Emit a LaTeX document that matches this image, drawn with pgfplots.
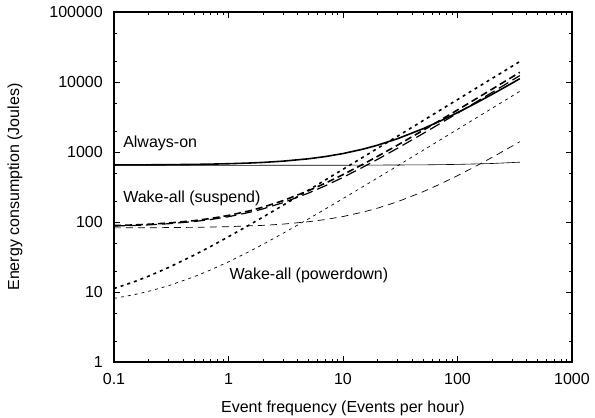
\documentclass[border=0pt]{standalone}
\usepackage{pgfplots}
\pgfplotsset{compat=1.18}
\usepackage{fontspec}
\setmainfont{Liberation Sans}

\newcommand{\lbl}{\fontsize{16}{19}\selectfont}

\begin{document}
\begin{tikzpicture}
\begin{axis}[
    name=ax,
    scale only axis,
    width=458pt, height=350pt,
    xmode=log, ymode=log,
    xmin=0.1, xmax=1000, ymin=1, ymax=100000,
    xtick={0.1,1,10,100,1000},
    xticklabels={0.1,1,10,100,1000},
    ytick={1,10,100,1000,10000,100000},
    yticklabels={1,10,100,1000,10000,100000},
    minor ytick={2,5,20,50,200,500,2000,5000,20000,50000},
    font=\lbl,
    tick label style={font=\lbl},
    xticklabel style={anchor=center, yshift=-17pt},
    yticklabel style={anchor=east, inner sep=0pt, xshift=-11pt},
    major tick length=6pt, minor tick length=3pt,
    every tick/.style={black, line width=0.7pt},
    axis line style={line width=1.1pt},
    xlabel={Event frequency (Events per hour)},
    ylabel={Energy consumption (Joules)},
    every axis x label/.style={at={([yshift=-46pt]rel axis cs:0.5,0)}, anchor=center},
    every axis y label/.style={at={([xshift=-99pt]rel axis cs:0,0.5)}, anchor=center, rotate=90},
    every axis plot/.append style={black, no markers},
]
% Always-on, heavy
\addplot[line width=1.6pt] coordinates {
(0.1,653) (0.15,654.5) (0.2,656) (0.3,659) (0.5,665) (0.7,671) (1,680)
(1.5,695) (2,710) (3,740) (5,800) (7,860) (10,950) (15,1100) (20,1250)
(30,1550) (50,2150) (70,2750) (100,3650) (150,5150) (200,6650) (250,8150)
(300,9650) (350,11150)};
% Always-on, light
\addplot[line width=0.6pt] coordinates {
(0.1,645) (1,645.2) (10,647) (50,655) (100,665) (200,685) (350,715)};
% Wake-all (suspend), heavy
\addplot[line width=1.6pt, dash pattern=on 7pt off 4pt] coordinates {
(0.1,88.9) (0.15,90.85) (0.2,92.8) (0.3,96.7) (0.5,104.5) (0.7,112.3) (1,124)
(1.5,143.5) (2,163) (3,202) (5,280) (7,358) (10,475) (15,670) (20,865)
(30,1255) (50,2035) (70,2815) (100,3985) (150,5935) (200,7885) (250,9835)
(300,11785) (350,13735)};
% Wake-all (suspend), medium
\addplot[line width=1.2pt, dash pattern=on 11pt off 5pt] coordinates {
(0.1,87.5) (0.15,89.25) (0.2,91) (0.3,94.5) (0.5,101.5) (0.7,108.5) (1,119)
(1.5,136.5) (2,154) (3,189) (5,259) (7,329) (10,434) (15,609) (20,784)
(30,1134) (50,1834) (70,2534) (100,3584) (150,5334) (200,7084) (250,8834)
(300,10584) (350,12334)};
% Wake-all (suspend), light
\addplot[line width=0.7pt, dash pattern=on 7pt off 5pt] coordinates {
(0.1,82.4) (0.2,82.8) (0.5,83.9) (1,85.8) (2,89.5) (3,93.3) (5,100.9)
(7,108.4) (10,119.7) (15,138.6) (20,157.4) (30,195.1) (50,270.5) (70,345.9)
(100,459) (150,647.5) (200,836) (250,1024.5) (300,1213) (350,1401.5)};
% Wake-all (powerdown), heavy
\addplot[line width=1.6pt, dash pattern=on 3pt off 4pt] coordinates {
(0.1,11.2) (0.15,14) (0.2,16.8) (0.3,22.4) (0.5,33.6) (0.7,44.8) (1,61.6)
(1.5,89.6) (2,117.6) (3,173.6) (5,285.6) (7,397.6) (10,565.6) (15,845.6)
(20,1125.6) (30,1685.6) (50,2805.6) (70,3925.6) (100,5605.6) (150,8405.6)
(200,11205.6) (250,14005.6) (300,16805.6) (350,19605.6)};
% Wake-all (powerdown), light
\addplot[line width=0.7pt, dash pattern=on 3pt off 4pt] coordinates {
(0.1,8.1) (0.15,9.15) (0.2,10.2) (0.3,12.3) (0.5,16.5) (0.7,20.7) (1,27)
(1.5,37.5) (2,48) (3,69) (5,111) (7,153) (10,216) (15,321) (20,426)
(30,636) (50,1056) (70,1476) (100,2106) (150,3156) (200,4206) (250,5256)
(300,6306) (350,7356)};

\node[anchor=west, inner sep=0pt] at (axis cs:0.12,1350) {Always-on};
\node[anchor=west, inner sep=0pt] at (axis cs:0.12,218) {Wake-all (suspend)};
\node[anchor=west, inner sep=0pt] at (axis cs:1.02,17.5) {Wake-all (powerdown)};
\end{axis}
\pgfresetboundingbox
\path ([shift={(-114pt,-56pt)}]ax.south west) rectangle ([shift={(23pt,12pt)}]ax.north east);
\end{tikzpicture}
\end{document}
